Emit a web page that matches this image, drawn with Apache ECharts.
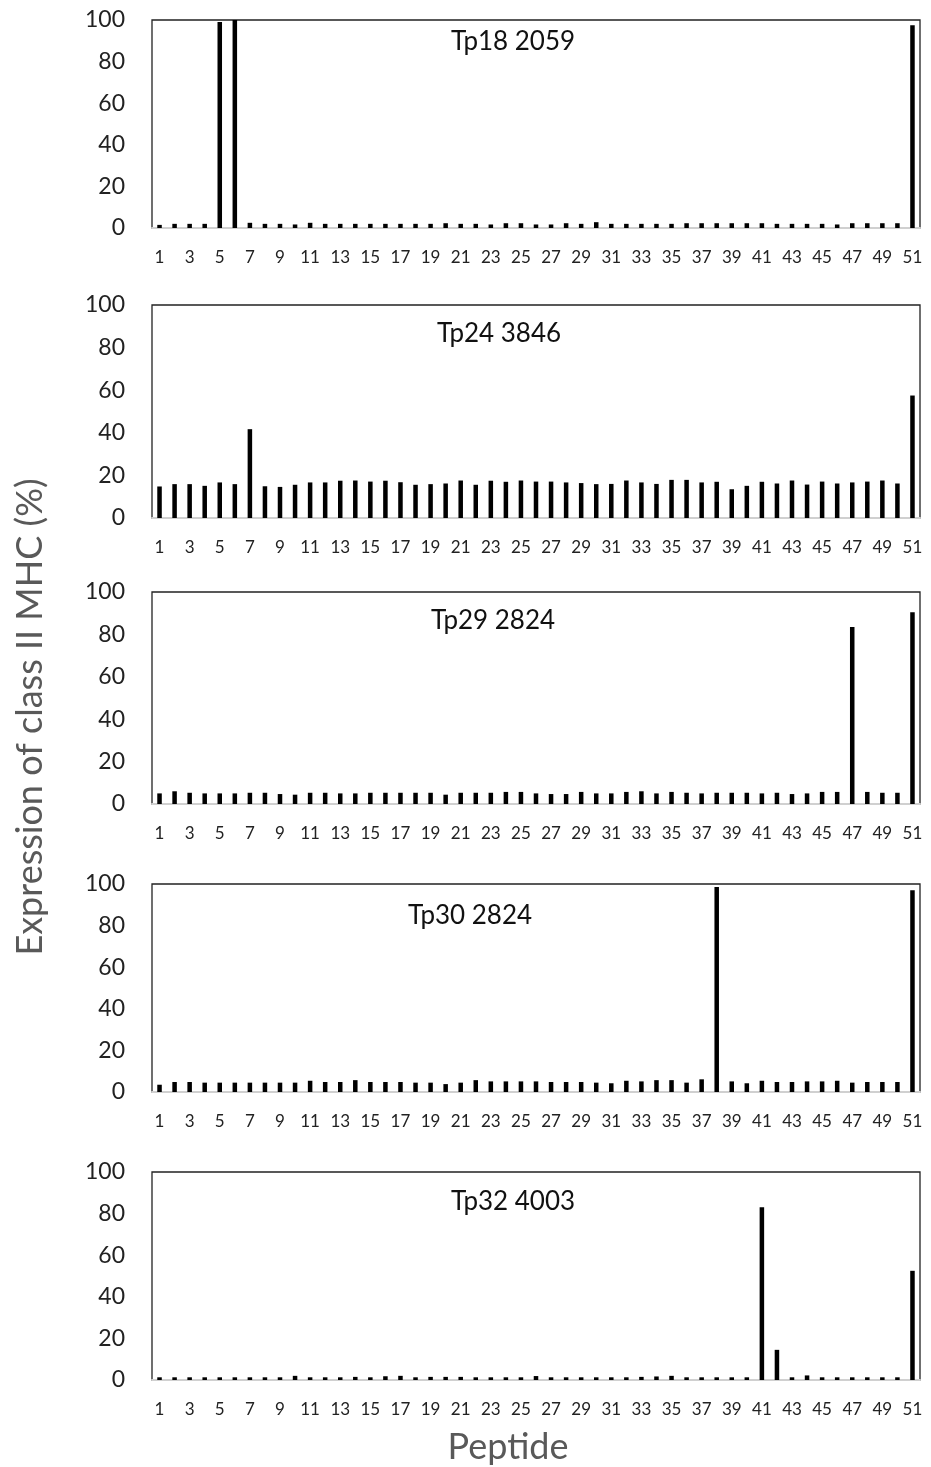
<!DOCTYPE html>
<html><head><meta charset="utf-8">
<script src="https://cdn.jsdelivr.net/npm/echarts@6/dist/echarts.min.js"></script>
<style>html,body{margin:0;padding:0;background:#fff}#c{width:931px;height:1467px}</style>
</head><body><div id="c"></div>
<script>
const categories = Array.from({length:51},(_,i)=>String(i+1));
const yTicks = [0,20,40,60,80,100];
const panelNames = ["Tp18 2059","Tp24 3846","Tp29 2824","Tp30 2824","Tp32 4003"];
const tp18 = [1.5,2,2,2,99,100,2.5,2,2,1.7, 2.5,2,2,2,2,2,2,2,2,2.3, 2,2,1.7,2.3,2.3,1.7,1.7,2.3,2,2.8, 2,2,2,2,2,2.3,2.3,2.3,2.3,2.3, 2.3,2,2,2,2,1.7,2.3,2.3,2.3,2.3,97.5];
const tp24 = [14.8,15.9,15.9,15.1,16.7,15.9,41.7,14.9,14.6,15.6, 16.7,16.7,17.5,17.6,17.1,17.5,16.8,15.6,15.9,16.2, 17.6,15.6,17.5,17,17.6,17.1,17.1,16.7,16.4,15.9, 16,17.6,16.7,16,17.9,17.9,16.7,17,13.5,15.1, 17,16.2,17.6,15.7,17.1,16.2,16.7,17.1,17.6,16.2,57.5];
const tp29 = [5,6,5.3,5,5,5,5.3,5.3,4.7,4.4, 5.3,5.3,5,5,5.3,5.3,5.3,5.3,5.3,4.4, 5.3,5.3,5.3,5.7,5.7,5,4.7,4.7,5.7,5, 5,5.7,6,5,5.7,5.3,5,5.3,5.3,5.3, 5,5.3,4.7,5,5.7,5.7,83.5,5.7,5.3,5.3,90.5];
const tp30 = [3.5,4.8,4.8,4.5,4.5,4.5,4.5,4.5,4.5,4.5, 5.4,4.8,4.8,5.7,4.8,4.8,4.8,4.5,4.5,3.8, 4.5,5.7,5.1,5.1,5.1,5.1,4.8,4.8,4.8,4.5, 4.2,5.4,5.1,5.7,5.7,4.5,6.1,98.5,5.1,4.2, 5.4,4.8,4.8,5.1,5.1,5.4,4.5,4.8,4.8,4.8,97];
const tp32 = [1.3,1.3,1.3,1.3,1.3,1.3,1.3,1.3,1.3,2, 1.3,1.3,1.3,1.5,1.3,1.8,2,1.3,1.5,1.5, 1.5,1.3,1.3,1.3,1.3,1.9,1.3,1.3,1.3,1.3, 1.3,1.3,1.5,1.7,2,1.3,1.3,1.3,1.3,1.3, 83,14.5,1.3,2.2,1.3,1.3,1.3,1.3,1.3,1.3,52.5];
const seriesData = [tp18,tp24,tp29,tp30,tp32];

const FONT = 'Lato';
const tops = [20,305,592,884,1172];
const heights = [208,213,212,208,208];
const titleX = [508,494,488,465,508];
const titleTop = [24,316,603,898,1184];

const grids=[], xAxes=[], yAxes=[], series=[], titles=[];
seriesData.forEach((d,i)=>{
  grids.push({left:152,right:11,top:tops[i],height:heights[i],show:true,borderColor:'#222',borderWidth:1.3,backgroundColor:'transparent'});
  xAxes.push({type:'category',gridIndex:i,data:categories,boundaryGap:true,
    axisLine:{show:true,lineStyle:{color:'#d0d0d0',width:2}},axisTick:{show:false},
    axisLabel:{interval:1,color:'#222',fontFamily:FONT,fontSize:17,margin:21}});
  yAxes.push({type:'value',gridIndex:i,min:yTicks[0],max:yTicks[yTicks.length-1],interval:20,
    splitLine:{show:false},axisLine:{show:false},axisTick:{show:false},
    axisLabel:{color:'#222',fontFamily:FONT,fontSize:23,margin:27}});
  series.push({type:'bar',xAxisIndex:i,yAxisIndex:i,data:d,barWidth:'30%',itemStyle:{color:'#000'},silent:true,animation:false});
  titles.push({text:panelNames[i],left:titleX[i],top:titleTop[i],textAlign:'center',
    textStyle:{fontFamily:FONT,fontSize:26,fontWeight:'normal',color:'#111'}});
});
titles.push({text:'Peptide',left:503,top:1424,textAlign:'center',textStyle:{fontFamily:FONT,fontSize:36,fontWeight:'normal',color:'#595959'}});

const chart = echarts.init(document.getElementById('c'),null,{renderer:'canvas'});
chart.setOption({
  animation:false,
  title:titles,
  grid:grids,xAxis:xAxes,yAxis:yAxes,series:series,
  graphic:[{type:'text',rotation:Math.PI/2,
    style:{text:'Expression of class II MHC (%)',font:'36px Lato',fill:'#595959',textAlign:'center',textVerticalAlign:'middle'},
    position:[30,717]}]
});
</script></body></html>
